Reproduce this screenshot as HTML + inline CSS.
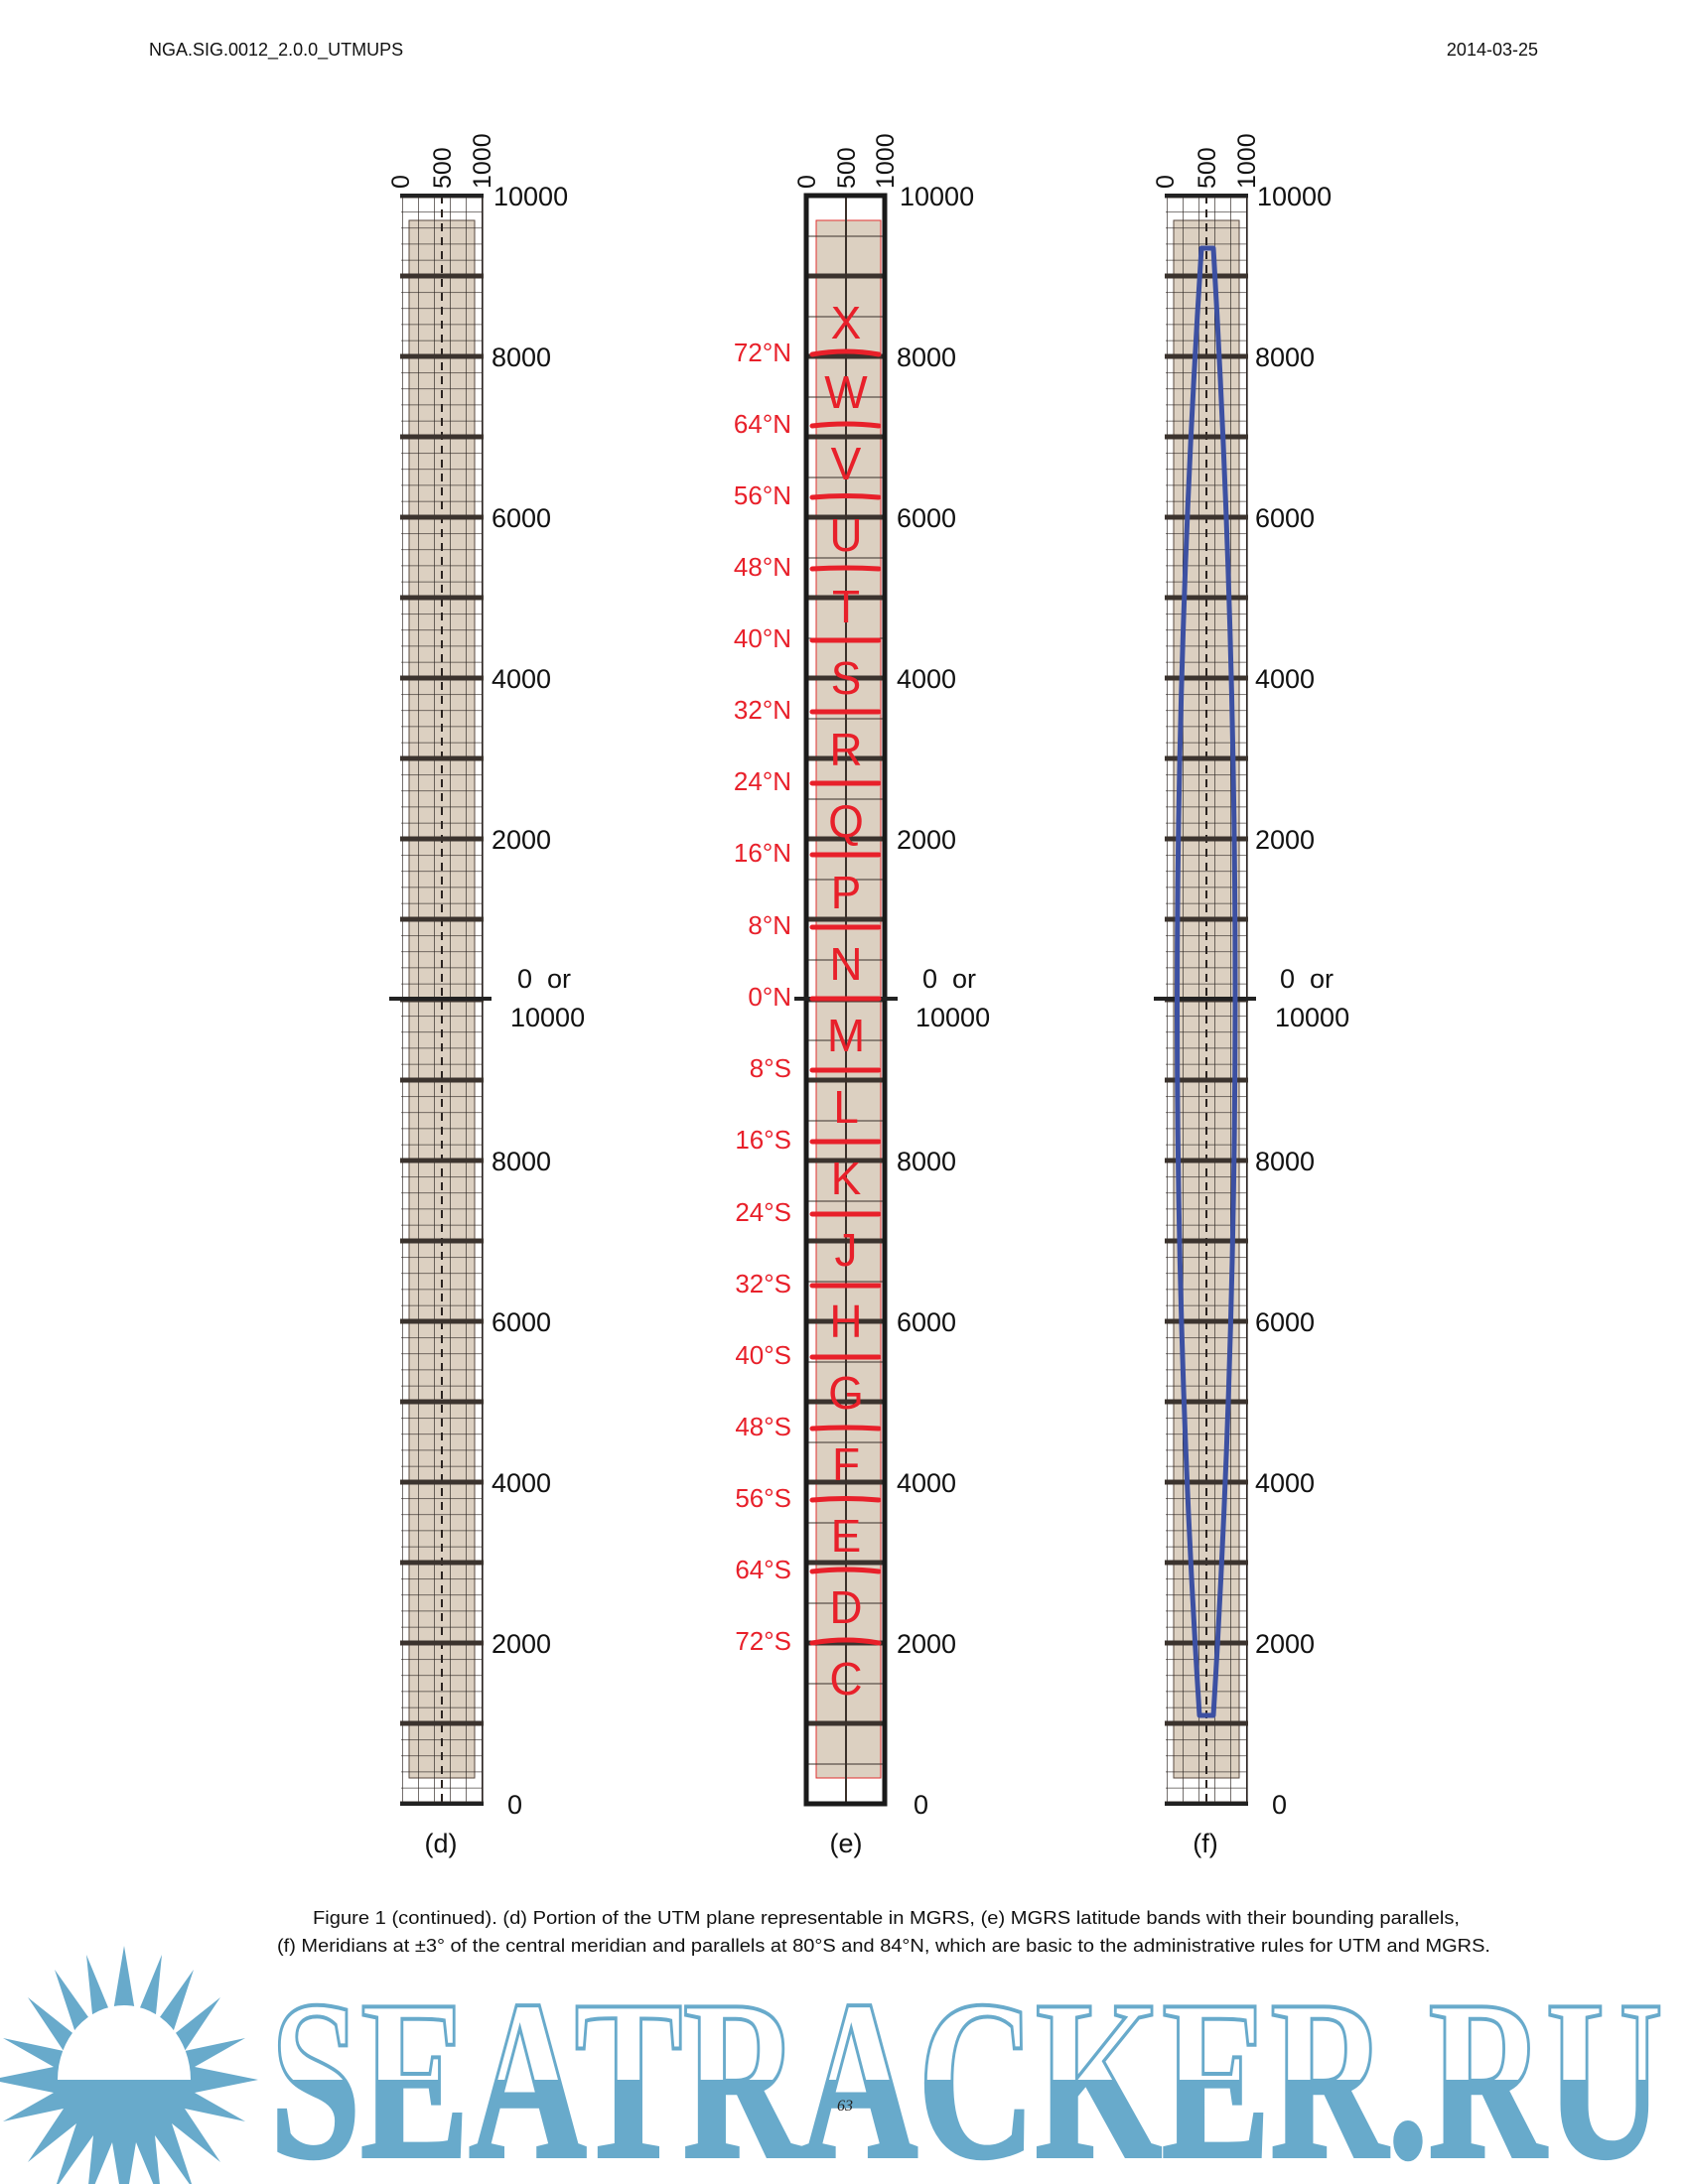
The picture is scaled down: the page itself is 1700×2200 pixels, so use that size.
<!DOCTYPE html>
<html><head><meta charset="utf-8"><style>
html,body{margin:0;padding:0;background:#fff;}
svg{display:block;}
text{font-family:"Liberation Sans",Arial,sans-serif;}
</style></head><body>
<svg width="1700" height="2200" viewBox="0 0 1700 2200" xmlns="http://www.w3.org/2000/svg">
<defs>
<pattern id="fineD" patternUnits="userSpaceOnUse" x="405" y="197" width="16" height="16.2">
<path d="M0,0 V16.2 M0,0 H16" stroke="#2a2320" stroke-width="1.3" fill="none"/>
</pattern>
<pattern id="fineF" patternUnits="userSpaceOnUse" x="1175" y="197" width="16" height="16.2">
<path d="M0,0 V16.2 M0,0 H16" stroke="#2a2320" stroke-width="1.3" fill="none"/>
</pattern>
<pattern id="halfE" patternUnits="userSpaceOnUse" x="0" y="197" width="2000" height="40.5">
<path d="M0,0 H2000" stroke="#3a302a" stroke-width="2" fill="none"/>
</pattern>
<pattern id="thick" patternUnits="userSpaceOnUse" x="0" y="197" width="2000" height="81">
<rect x="0" y="0" width="2000" height="2.5" fill="#3b332e"/>
<rect x="0" y="78.5" width="2000" height="2.5" fill="#3b332e"/>
</pattern>
<linearGradient id="wm" gradientUnits="userSpaceOnUse" x1="0" y1="2018" x2="0" y2="2172">
<stop offset="0" stop-color="#fff"/><stop offset="0.5" stop-color="#fff"/>
<stop offset="0.5" stop-color="#68aacb"/><stop offset="1" stop-color="#68aacb"/>
</linearGradient>
</defs>

<text x="150" y="56" font-size="18" fill="#111">NGA.SIG.0012_2.0.0_UTMUPS</text>
<text x="1549" y="56" font-size="18" fill="#111" text-anchor="end">2014-03-25</text>

<!-- column d -->
<rect x="412" y="222" width="66" height="1569" fill="#dcd0c1" stroke="#5a4a40" stroke-width="1"/>
<rect x="404" y="197" width="82" height="1620" fill="url(#fineD)"/>
<line x1="486" y1="197" x2="486" y2="1817" stroke="#2a2320" stroke-width="1.3"/>
<line x1="445" y1="197" x2="445" y2="1817" stroke="#2a2320" stroke-width="2" stroke-dasharray="8,6"/>
<rect x="403" y="196" width="84" height="1623" fill="url(#thick)"/>
<rect x="403" y="195" width="84" height="4" fill="#222"/>
<rect x="403" y="1815" width="84" height="4" fill="#222"/>
<rect x="392" y="1004" width="103" height="4" fill="#222"/>

<!-- column e -->
<rect x="812" y="197" width="79" height="1620" fill="#fff"/>
<rect x="822" y="222" width="65" height="1569" fill="#dcd0c1" stroke="#e03030" stroke-width="1"/>
<rect x="814" y="197" width="75" height="1620" fill="url(#halfE)"/>
<rect x="814" y="196" width="75" height="1623" fill="url(#thick)"/>
<line x1="852" y1="197" x2="852" y2="1817" stroke="#3a302a" stroke-width="2"/>
<rect x="812" y="197" width="79" height="1620" fill="none" stroke="#1a1a1a" stroke-width="5"/>
<rect x="800" y="1004" width="104" height="4" fill="#222"/>

<!-- column f -->
<rect x="1182" y="222" width="66" height="1569" fill="#dcd0c1" stroke="#5a4a40" stroke-width="1"/>
<rect x="1174" y="197" width="82" height="1620" fill="url(#fineF)"/>
<line x1="1256" y1="197" x2="1256" y2="1817" stroke="#2a2320" stroke-width="1.3"/>
<line x1="1215" y1="197" x2="1215" y2="1817" stroke="#2a2320" stroke-width="2" stroke-dasharray="8,6"/>
<rect x="1173" y="196" width="84" height="1623" fill="url(#thick)"/>
<rect x="1173" y="195" width="84" height="4" fill="#222"/>
<rect x="1173" y="1815" width="84" height="4" fill="#222"/>
<rect x="1162" y="1004" width="103" height="4" fill="#222"/>
<path d="M1210,250 Q1162,1006 1208,1728 L1222,1728 Q1266,1006 1222,250 Z" fill="none" stroke="#3c50a2" stroke-width="5" stroke-linejoin="round"/>

<!-- top rotated labels -->
<g font-size="25" fill="#111">
<text transform="translate(412,190) rotate(-90)">0</text>
<text transform="translate(454,190) rotate(-90)">500</text>
<text transform="translate(494,190) rotate(-90)">1000</text>
<text transform="translate(821,190) rotate(-90)">0</text>
<text transform="translate(861,190) rotate(-90)">500</text>
<text transform="translate(900,190) rotate(-90)">1000</text>
<text transform="translate(1182,190) rotate(-90)">0</text>
<text transform="translate(1224,190) rotate(-90)">500</text>
<text transform="translate(1264,190) rotate(-90)">1000</text>
</g>

<!-- right labels -->
<g font-size="27" fill="#111">
<text x="497" y="207">10000</text><text x="495" y="369">8000</text><text x="495" y="531">6000</text><text x="495" y="693">4000</text><text x="495" y="855">2000</text>
<text x="521" y="995">0&#160;&#160;or</text><text x="514" y="1034">10000</text>
<text x="495" y="1179">8000</text><text x="495" y="1341">6000</text><text x="495" y="1503">4000</text><text x="495" y="1665">2000</text><text x="511" y="1827">0</text>

<text x="906" y="207">10000</text><text x="903" y="369">8000</text><text x="903" y="531">6000</text><text x="903" y="693">4000</text><text x="903" y="855">2000</text>
<text x="929" y="995">0&#160;&#160;or</text><text x="922" y="1034">10000</text>
<text x="903" y="1179">8000</text><text x="903" y="1341">6000</text><text x="903" y="1503">4000</text><text x="903" y="1665">2000</text><text x="920" y="1827">0</text>

<text x="1266" y="207">10000</text><text x="1264" y="369">8000</text><text x="1264" y="531">6000</text><text x="1264" y="693">4000</text><text x="1264" y="855">2000</text>
<text x="1289" y="995">0&#160;&#160;or</text><text x="1284" y="1034">10000</text>
<text x="1264" y="1179">8000</text><text x="1264" y="1341">6000</text><text x="1264" y="1503">4000</text><text x="1264" y="1665">2000</text><text x="1281" y="1827">0</text>

<text x="444" y="1866" text-anchor="middle">(d)</text>
<text x="852" y="1866" text-anchor="middle">(e)</text>
<text x="1214" y="1866" text-anchor="middle">(f)</text>
</g>

<!-- red bands -->
<g stroke="#e8202a" stroke-width="5" fill="none" stroke-linecap="round">
<path d="M818,357 Q852,351 885,357"/><path d="M818,429 Q852,425 885,429"/><path d="M818,501 Q852,498 885,501"/><path d="M818,573 Q852,571 885,573"/>
<path d="M818,645 H885"/><path d="M818,717 H885"/><path d="M818,789 H885"/><path d="M818,861 H885"/><path d="M818,934 H885"/><path d="M818,1006 H885"/>
<path d="M818,1078 H885"/><path d="M818,1150 H885"/><path d="M818,1223 H885"/><path d="M818,1295 H885"/><path d="M818,1367 H885"/>
<path d="M818,1439 Q852,1437 885,1439"/><path d="M818,1511 Q852,1508 885,1511"/><path d="M818,1583 Q852,1579 885,1583"/><path d="M818,1655 Q852,1649 885,1655"/>
</g>
<g font-size="46" fill="#e8202a" text-anchor="middle">
<text x="852" y="341">X</text><text x="852" y="411">W</text><text x="852" y="483">V</text><text x="852" y="555">U</text><text x="852" y="627">T</text>
<text x="852" y="699">S</text><text x="852" y="771">R</text><text x="852" y="843">Q</text><text x="852" y="915">P</text><text x="852" y="987">N</text>
<text x="852" y="1059">M</text><text x="852" y="1131">L</text><text x="852" y="1203">K</text><text x="852" y="1275">J</text><text x="852" y="1347">H</text>
<text x="852" y="1419">G</text><text x="852" y="1491">F</text><text x="852" y="1563">E</text><text x="852" y="1635">D</text><text x="852" y="1707">C</text>
</g>
<g font-size="26" fill="#e8202a" text-anchor="end">
<text x="797" y="364">72°N</text><text x="797" y="436">64°N</text><text x="797" y="508">56°N</text><text x="797" y="580">48°N</text><text x="797" y="652">40°N</text>
<text x="797" y="724">32°N</text><text x="797" y="796">24°N</text><text x="797" y="868">16°N</text><text x="797" y="941">8°N</text><text x="797" y="1013">0°N</text>
<text x="797" y="1085">8°S</text><text x="797" y="1157">16°S</text><text x="797" y="1230">24°S</text><text x="797" y="1302">32°S</text><text x="797" y="1374">40°S</text>
<text x="797" y="1446">48°S</text><text x="797" y="1518">56°S</text><text x="797" y="1590">64°S</text><text x="797" y="1662">72°S</text>
</g>

<g font-size="18" fill="#111">
<text x="315" y="1938" textLength="1155" lengthAdjust="spacingAndGlyphs">Figure 1 (continued).  (d) Portion of the UTM plane representable in  MGRS,  (e) MGRS latitude bands with their bounding parallels,</text>
<text x="279" y="1966" textLength="1222" lengthAdjust="spacingAndGlyphs">(f)  Meridians at ±3° of the central meridian and parallels at 80°S and 84°N, which are basic to the administrative rules for UTM and MGRS.</text>
</g>

<!-- watermark -->
<polygon fill="#68aacb" points="125,1960 137,2032 163,1969 156,2039 195,1984 173,2051 222,2012 186,2066 247,2053 196,2082 260,2095 196,2108 247,2137 186,2124 222,2178 173,2139 195,2206 156,2151 163,2221 137,2158 125,2230 113,2158 87,2221 94,2151 55,2206 77,2139 28,2178 64,2124 3,2137 54,2108 -10,2095 54,2082 3,2053 64,2066 28,2012 77,2051 55,1984 94,2039 87,1969 113,2032"/>
<path d="M58,2095 A67,75 0 0 1 192,2095 Z" fill="#fff"/>
<text x="272" y="2172" style="font-family:'Liberation Serif',serif;font-weight:bold;" font-size="230" textLength="1403" lengthAdjust="spacingAndGlyphs" fill="url(#wm)" stroke="#68aacb" stroke-width="4">SEATRACKER.RU</text>
<text x="851" y="2126" style="font-family:'Liberation Serif',serif;font-style:italic;" font-size="16" fill="#222" text-anchor="middle">63</text>
</svg>
</body></html>
